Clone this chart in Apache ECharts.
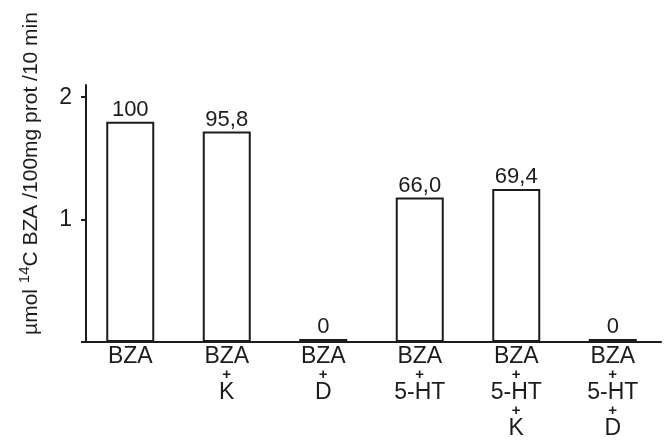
<!DOCTYPE html>
<html>
<head>
<meta charset="utf-8">
<script src="https://cdn.jsdelivr.net/npm/echarts@6/dist/echarts.min.js"></script>
<style>
  html, body { margin: 0; padding: 0; background: #fff; }
  #chart { width: 665px; height: 442px; }
</style>
</head>
<body>
<div id="chart"></div>
<script>
// groups along the x axis (lines of each label)
const categories = [
  ['BZA'],
  ['BZA', 'K'],
  ['BZA', 'D'],
  ['BZA', '5-HT'],
  ['BZA', '5-HT', 'K'],
  ['BZA', '5-HT', 'D']
]
// µmol 14C BZA / 100mg prot / 10 min
const values = [1.80, 1.72, 0.025, 1.18, 1.25, 0.025]
// percent printed above each bar
const pctLabels = ['100', '95,8', '0', '66,0', '69,4', '0']
const yTicks = [0, 1, 2]
const yLabels = [1, 2]

const ink = '#1c1c1c'
const myChart = echarts.init(document.getElementById('chart'))

const option = {
  backgroundColor: '#fff',
  animation: false,
  grid: {
    left: 82,
    right: 4,
    top: 85,
    bottom: 100
  },
  xAxis: {
    type: 'category',
    data: categories.map(c => c.join('\n')),
    axisLine: {
      lineStyle: { color: ink, width: 2 }
    },
    axisTick: { show: false },
    axisLabel: {
      margin: 6,
      interval: 0,
      formatter: function(v) {
        // a small plus sign between the stacked lines
        return v.split('\n').map(s => '{m|' + s + '}').join('\n{p|+}\n')
      },
      rich: {
        m: {
          fontFamily: 'Liberation Sans',
          fontSize: 23,
          lineHeight: 18,
          color: ink
        },
        p: {
          fontFamily: 'Liberation Sans',
          fontSize: 15,
          fontWeight: 'bold',
          lineHeight: 18,
          color: ink
        }
      }
    }
  },
  yAxis: {
    type: 'value',
    min: 0,
    max: 2.1,
    interval: 1,
    offset: -4,
    name: '{u|µmol }{s|14}{u|C BZA /100mg prot /10 min}',
    nameLocation: 'middle',
    nameRotate: 90,
    nameGap: 44,
    nameTextStyle: {
      padding: [0, 0, 0, 80],
      rich: {
        u: {
          fontFamily: 'Liberation Sans',
          fontSize: 21,
          lineHeight: 25,
          verticalAlign: 'bottom',
          color: ink
        },
        s: {
          fontFamily: 'Liberation Sans',
          fontSize: 15,
          lineHeight: 15,
          verticalAlign: 'top',
          color: ink
        }
      }
    },
    axisLine: {
      show: true,
      lineStyle: { color: ink, width: 2 }
    },
    axisTick: {
      show: true,
      inside: false,
      length: 5,
      customValues: yTicks,
      lineStyle: { color: ink, width: 2 }
    },
    axisLabel: {
      customValues: yLabels,
      margin: 14,
      fontFamily: 'Liberation Sans',
      fontSize: 23,
      color: ink
    },
    splitLine: { show: false }
  },
  series: [{
    type: 'bar',
    barWidth: 48,
    data: values.map((v, i) => ({
      value: v,
      itemStyle: v < 0.1 ? { color: ink, borderColor: ink } : undefined
    })),
    itemStyle: {
      color: '#fff',
      borderColor: ink,
      borderWidth: 2
    },
    label: {
      show: true,
      position: 'top',
      distance: 1,
      fontFamily: 'Liberation Sans',
      fontSize: 22,
      color: ink,
      formatter: function(p) {
        return pctLabels[p.dataIndex]
      }
    }
  }]
}

myChart.setOption(option)
</script>
</body>
</html>
